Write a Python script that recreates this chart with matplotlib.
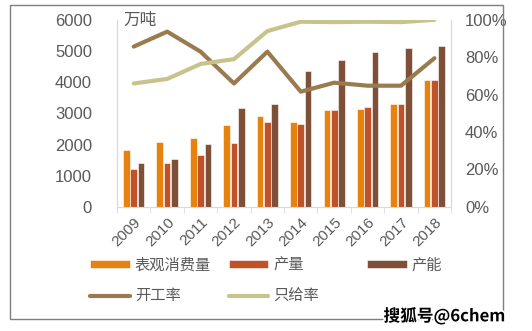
import numpy as np
import matplotlib
matplotlib.use("Agg")
import matplotlib.pyplot as plt
import matplotlib.patheffects as pe
from matplotlib.patches import Rectangle
from matplotlib.ticker import PercentFormatter

plt.rcParams['font.family'] = ['Liberation Sans', 'Noto Sans CJK SC', 'DejaVu Sans']

# data
years = ['2009', '2010', '2011', '2012', '2013', '2014', '2015', '2016', '2017', '2018']
consumption = [1820, 2090, 2200, 2625, 2915, 2720, 3110, 3150, 3290, 4060]   # 表观消费量
output = [1200, 1415, 1660, 2060, 2710, 2670, 3110, 3195, 3290, 4060]        # 产量
capacity = [1415, 1530, 2015, 3160, 3310, 4370, 4725, 4960, 5100, 5160]      # 产能
utilization = [85.7, 93.7, 83.0, 66.0, 83.0, 61.6, 66.4, 64.8, 64.8, 79.5]  # 开工率 %
self_supply = [66.0, 68.4, 76.4, 79.0, 94.0, 99.0, 98.8, 99.0, 98.8, 100.0] # 只给率 %

c_cons = '#E8820E'
c_out = '#C0522A'
c_cap = '#7E5038'
c_util = '#9A7B4F'
c_self = '#C8C38C'
grey = '#595959'
cjk = ['Noto Sans CJK SC', 'DejaVu Sans']

fig = plt.figure(figsize=(5.32, 3.31), dpi=100)
ax = fig.add_axes([0.22, 0.375, 0.628, 0.565])
ax2 = ax.twinx()

x = np.arange(len(years))
w = 0.2
ax.bar(x - 0.22, consumption, w, color=c_cons, edgecolor='white', linewidth=0.4, label='表观消费量')
ax.bar(x, output, w, color=c_out, edgecolor='white', linewidth=0.4, label='产量')
ax.bar(x + 0.22, capacity, w, color=c_cap, edgecolor='white', linewidth=0.4, label='产能')

ax2.plot(x, utilization, color=c_util, lw=3, label='开工率', solid_capstyle='round')
ax2.plot(x, self_supply, color=c_self, lw=3, label='只给率', solid_capstyle='round')

ax.set_xlim(-0.5, len(years) - 0.5)
ax.set_ylim(0, 6000)
ax.set_yticks(range(0, 6001, 1000))
ax2.set_ylim(0, 100)
ax2.set_yticks(range(0, 101, 20))
ax2.yaxis.set_major_formatter(PercentFormatter(decimals=0))

ax.set_xticks(x)
ax.set_xticklabels(years, rotation=45, ha='right', rotation_mode='anchor')
ax.set_xticks(np.arange(-0.5, len(years)), minor=True)
ax.tick_params(axis='x', which='major', length=0, pad=6, labelsize=11, colors=grey)
ax.tick_params(axis='x', which='minor', length=4, color='#D9D9D9', direction='out')
ax.tick_params(axis='y', length=0, pad=18, labelsize=12, colors=grey)
ax2.tick_params(axis='y', length=0, pad=10, labelsize=12, colors=grey)

for a in (ax, ax2):
    a.spines['top'].set_visible(False)
    for s in ('left', 'right', 'bottom'):
        a.spines[s].set_color('#D9D9D9')
ax2.spines['bottom'].set_visible(False)

ax.text(0.02, 1.0, '万吨', transform=ax.transAxes, family=cjk, fontsize=12,
        color=grey, va='center', ha='left')

# legend, one block per column
h1, l1 = ax.get_legend_handles_labels()
h2, l2 = ax2.get_legend_handles_labels()
kw = dict(frameon=False, prop={'family': cjk, 'size': 11}, labelcolor=grey,
          handlelength=2.6, handleheight=0.45, labelspacing=0.9, handletextpad=0.3,
          borderaxespad=0, borderpad=0, loc='upper left')
fig.legend([h1[0], h2[0]], [l1[0], l2[0]], bbox_to_anchor=(0.17, 0.225), **kw)
fig.legend([h1[1], h2[1]], [l1[1], l2[1]], bbox_to_anchor=(0.43, 0.225), **kw)
fig.legend([h1[2]], [l1[2]], bbox_to_anchor=(0.69, 0.225), **kw)

# outer frame
fig.patches.append(Rectangle((10 / 532, 12 / 331), 493 / 532, 314 / 331,
                             transform=fig.transFigure, fill=False,
                             edgecolor='#7F7F7F', linewidth=1))

fig.text(0.95, 0.045, '搜狐号@6chem', family=cjk, fontsize=12, fontweight='bold',
         color='black', ha='right', va='center',
         path_effects=[pe.withStroke(linewidth=2.5, foreground='white')])

fig.savefig('out.png', dpi=100)
